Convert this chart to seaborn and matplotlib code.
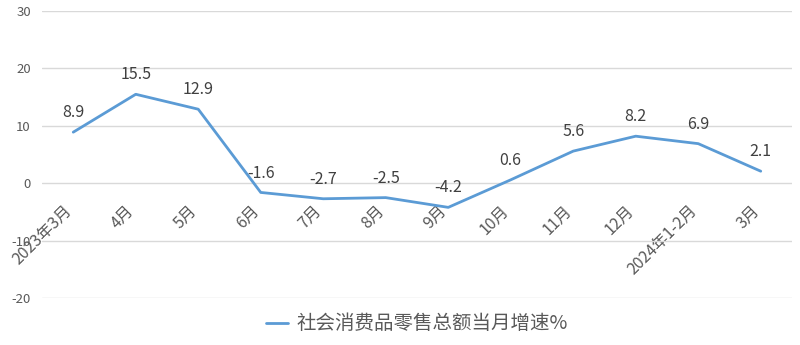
import matplotlib
matplotlib.use("Agg")
import matplotlib.pyplot as plt
import matplotlib.transforms as mtransforms
import seaborn as sns
import pandas as pd

categories = ["2023年3月", "4月", "5月", "6月", "7月", "8月", "9月", "10月", "11月", "12月", "2024年1-2月", "3月"]
values = [8.9, 15.5, 12.9, -1.6, -2.7, -2.5, -4.2, 0.6, 5.6, 8.2, 6.9, 2.1]
series_name = "社会消费品零售总额当月增速%"
y_ticks = [-20, -10, 0, 10, 20, 30]

sns.set_theme(style="white")
plt.rcParams['font.family'] = ['Noto Sans CJK SC', 'DejaVu Sans']

df = pd.DataFrame({"x": range(len(categories)), "v": values, "s": series_name})

fig = plt.figure(figsize=(8, 3.45), dpi=100)
ax = fig.add_axes([0.0525, 0.136, 0.9375, 0.832])

sns.lineplot(data=df, x="x", y="v", hue="s", palette=["#5B9BD5"], linewidth=2.0, ax=ax)

ax.set_xlim(-0.5, len(categories) - 0.5)
ax.set_ylim(-20, 30)
ax.set_yticks(y_ticks)
ax.set_yticklabels([str(t) for t in y_ticks])
ax.yaxis.grid(True, color="#D9D9D9", linewidth=1.0)
ax.set_axisbelow(True)
for s in ["top", "right", "left"]:
    ax.spines[s].set_visible(False)
ax.spines["bottom"].set_position(("data", 0))
ax.spines["bottom"].set_color("none")
ax.tick_params(axis="y", length=0, pad=8, labelsize=9.5, labelcolor="#595959")
ax.tick_params(axis="x", length=0, pad=18, labelsize=11.5, labelcolor="#595959")
ax.set_xticks(range(len(categories)))
ax.set_xticklabels(categories)
offset = mtransforms.ScaledTranslation(-4 / 100, 0, fig.dpi_scale_trans)
for lab in ax.get_xticklabels():
    lab.set_rotation(45)
    lab.set_ha("right")
    lab.set_va("center")
    lab.set_rotation_mode("anchor")
    lab.set_transform(lab.get_transform() + offset)
ax.set_xlabel("")
ax.set_ylabel("")

for i, v in enumerate(values):
    ax.annotate(f"{v}", (i, v), xytext=(0, 14), textcoords="offset points",
                ha="center", va="center", fontsize=11.5, color="#404040")

leg = ax.legend(loc="center", bbox_to_anchor=(0.5, -0.09), frameon=False,
                fontsize=14, handlelength=1.15, handletextpad=0.45)
for t in leg.get_texts():
    t.set_color("#595959")

fig.savefig("out.png", dpi=100, facecolor="white")
